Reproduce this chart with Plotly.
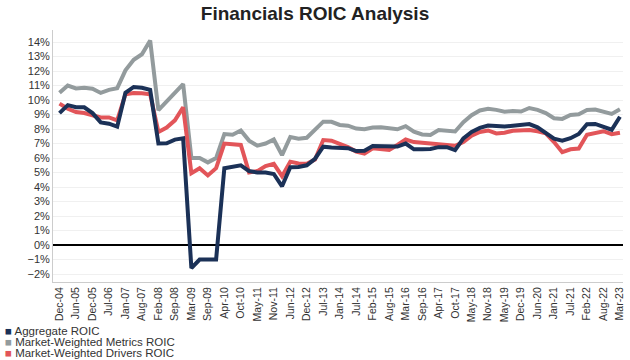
import plotly.graph_objects as go

tick_labels = ["Dec-04", "Jun-05", "Dec-05", "Jul-06", "Jan-07", "Aug-07", "Feb-08", "Sep-08",
               "Mar-09", "Sep-09", "Apr-10", "Oct-10", "May-11", "Nov-11", "Jun-12", "Dec-12",
               "Jul-13", "Jan-14", "Jul-14", "Feb-15", "Aug-15", "Mar-16", "Sep-16", "Apr-17",
               "Oct-17", "May-18", "Nov-18", "May-19", "Dec-19", "Jun-20", "Jan-21", "Jul-21",
               "Feb-22", "Aug-22", "Mar-23"]

aggregate = [9.1, 9.65, 9.5, 9.5, 9.1, 8.46, 8.37, 8.16, 10.5, 10.9, 10.85, 10.7, 7.0, 7.02, 7.27, 7.36,
             -1.6, -1.0, -1.0, -1.0, 5.3, 5.4, 5.5, 5.1, 5.0, 5.0, 4.9, 4.05, 5.36, 5.38, 5.5, 5.95,
             6.78, 6.72, 6.67, 6.68, 6.48, 6.5, 6.83, 6.8, 6.76, 6.79, 7.0, 6.6, 6.6, 6.63, 6.75, 6.75,
             6.55, 7.35, 7.8, 8.08, 8.24, 8.22, 8.17, 8.23, 8.3, 8.34, 8.12, 7.71, 7.33, 7.2, 7.37,
             7.66, 8.33, 8.35, 8.16, 7.95, 8.85]

metrics = [10.5, 11.0, 10.8, 10.85, 10.78, 10.49, 10.7, 10.82, 12.05, 12.78, 13.16, 14.1, 9.3, 9.9, 10.5,
           11.1, 6.0, 6.0, 5.7, 6.0, 7.65, 7.6, 7.9, 7.2, 6.85, 7.0, 7.28, 6.2, 7.45, 7.33, 7.4, 8.0,
           8.51, 8.5, 8.28, 8.23, 8.03, 7.98, 8.11, 8.13, 8.02, 7.98, 8.2, 7.82, 7.63, 7.59, 7.93, 7.88,
           7.83, 8.47, 8.95, 9.28, 9.4, 9.32, 9.2, 9.24, 9.21, 9.45, 9.32, 9.1, 8.74, 8.7, 8.97, 9.02,
           9.32, 9.34, 9.2, 9.04, 9.36]

drivers = [9.75, 9.4, 9.17, 9.1, 8.95, 8.8, 8.8, 8.6, 10.4, 10.48, 10.46, 10.4, 7.8, 8.1, 8.6, 9.5,
           4.95, 5.3, 4.8, 5.3, 7.0, 6.97, 6.9, 5.0, 5.1, 5.45, 5.6, 4.75, 5.75, 5.63, 5.6, 5.9,
           7.24, 7.2, 7.0, 6.75, 6.45, 6.3, 6.67, 6.62, 6.56, 6.9, 7.28, 7.1, 7.04, 7.0, 6.97, 6.92,
           6.85, 7.1, 7.55, 7.8, 7.9, 7.7, 7.75, 7.88, 7.93, 7.93, 7.85, 7.7, 7.1, 6.4, 6.6, 6.65,
           7.6, 7.75, 7.85, 7.65, 7.75]

x_idx = list(range(len(aggregate)))
tick_pos = [i * 2 for i in range(len(tick_labels))]

names = ["Aggregate ROIC", "Market-Weighted Metrics ROIC", "Market-Weighted Drivers ROIC"]
colors = ["#1b3157", "#939b9d", "#e25559"]

fig = go.Figure()
for ys, name, col in [(metrics, names[1], colors[1]), (drivers, names[2], colors[2]),
                      (aggregate, names[0], colors[0])]:
    fig.add_trace(go.Scatter(x=x_idx, y=ys, mode="lines", name=name,
                             line=dict(color=col, width=4), showlegend=False,
                             hovertemplate="%{y:.1f}%<extra>" + name + "</extra>"))

fig.update_layout(
    width=630, height=360,
    margin=dict(l=53, r=5, t=30, b=78),
    paper_bgcolor="white", plot_bgcolor="white",
    font=dict(family="Liberation Sans, Arial, sans-serif", size=11, color="#333333"),
    title=dict(text="<b>Financials ROIC Analysis</b>", x=0.5, xanchor="center",
               y=0.962, yanchor="middle",
               font=dict(family="Liberation Sans, Arial, sans-serif", size=19, color="#222222")),
    xaxis=dict(range=[-0.79, 68.37], tickmode="array", tickvals=tick_pos, ticktext=tick_labels,
               tickangle=-90, showgrid=False, zeroline=False, showline=True,
               linecolor="#cccccc", linewidth=1, ticks="", tickfont=dict(size=10.5)),
    yaxis=dict(range=[-2.55, 14.83], tickmode="linear", tick0=-2, dtick=1, ticksuffix="%",
               showgrid=True, gridcolor="#f0f0f0", gridwidth=1,
               zeroline=True, zerolinecolor="#000000", zerolinewidth=1.5,
               showline=True, linecolor="#cccccc", linewidth=1, ticks="",
               tickfont=dict(size=11)),
)

legend_y = [330.5, 341.5, 352.5]
for name, col, py in zip(names, colors, legend_y):
    fig.add_annotation(xref="paper", yref="paper",
                       x=(3 - 53) / 572, y=1 - (py - 30) / 252,
                       xanchor="left", yanchor="middle", showarrow=False,
                       text=f"<span style='color:{col}'>■</span> {name}",
                       font=dict(size=11.5, color="#333333"))

fig.write_html("out.html", config={"displayModeBar": False},
               post_script="document.body.style.margin='0';document.body.style.overflow='hidden';")
